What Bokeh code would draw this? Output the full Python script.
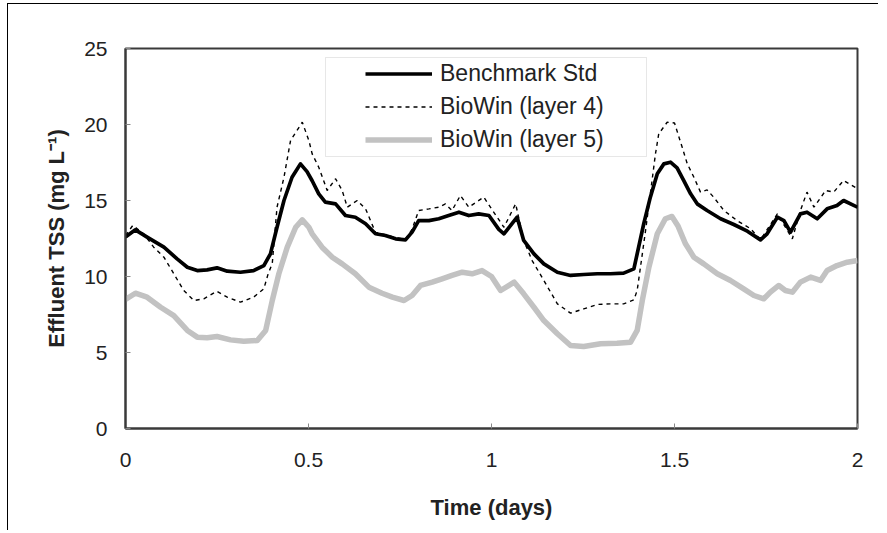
from bokeh.plotting import figure
from bokeh.models import Range1d, FixedTicker, Legend, LegendItem, BoxAnnotation
from bokeh.embed import file_html
from bokeh.resources import INLINE

# ---- data ----
t_bench = [0.0, 0.027, 0.059, 0.105, 0.141, 0.169, 0.196, 0.223, 0.25, 0.278, 0.314, 0.35,
           0.378, 0.396, 0.414, 0.433, 0.455, 0.478, 0.496, 0.51, 0.528, 0.546, 0.574, 0.601,
           0.628, 0.656, 0.683, 0.71, 0.738, 0.765, 0.783, 0.801, 0.829, 0.856, 0.883, 0.911,
           0.938, 0.965, 0.993, 1.02, 1.034, 1.07, 1.088, 1.116, 1.143, 1.18, 1.216, 1.252,
           1.289, 1.325, 1.361, 1.389, 1.402, 1.416, 1.434, 1.453, 1.471, 1.489, 1.507, 1.525,
           1.544, 1.562, 1.589, 1.626, 1.662, 1.699, 1.735, 1.753, 1.781, 1.799, 1.817, 1.844,
           1.862, 1.89, 1.917, 1.944, 1.962, 2.0]
v_bench = [12.6, 13.07, 12.59, 11.93, 11.16, 10.61, 10.39, 10.44, 10.57, 10.35, 10.28, 10.39,
           10.72, 11.49, 13.24, 15.0, 16.53, 17.41, 16.9, 16.3, 15.44, 14.89, 14.78, 14.01,
           13.9, 13.47, 12.81, 12.7, 12.48, 12.41, 12.92, 13.68, 13.68, 13.8, 14.01, 14.23,
           14.01, 14.12, 14.01, 13.1, 12.81, 13.9, 12.37, 11.49, 10.83, 10.28, 10.07, 10.13,
           10.18, 10.18, 10.22, 10.5, 11.93, 13.47, 15.22, 16.76, 17.41, 17.52, 17.15, 16.32,
           15.44, 14.78, 14.34, 13.8, 13.42, 12.98, 12.41, 12.81, 13.9, 13.68, 12.92, 14.12,
           14.23, 13.8, 14.45, 14.67, 15.0, 14.56]

t_layer4 = [0.0, 0.02, 0.05, 0.077, 0.105, 0.132, 0.159, 0.187, 0.214, 0.25, 0.278, 0.314,
            0.35, 0.378, 0.39, 0.401, 0.414, 0.433, 0.451, 0.483, 0.501, 0.51, 0.528, 0.551,
            0.574, 0.592, 0.606, 0.633, 0.656, 0.683, 0.71, 0.738, 0.765, 0.783, 0.801, 0.829,
            0.856, 0.874, 0.892, 0.915, 0.938, 0.979, 1.0, 1.034, 1.066, 1.088, 1.111, 1.143,
            1.18, 1.216, 1.252, 1.289, 1.325, 1.361, 1.389, 1.398, 1.407, 1.421, 1.434, 1.448,
            1.457, 1.48, 1.5, 1.521, 1.535, 1.553, 1.571, 1.589, 1.607, 1.635, 1.671, 1.708,
            1.735, 1.781, 1.822, 1.844, 1.862, 1.881, 1.913, 1.935, 1.962, 2.0]
v_layer4 = [12.7, 13.36, 12.8, 11.93, 11.27, 10.18, 9.08, 8.42, 8.53, 9.03, 8.64, 8.31,
            8.64, 9.19, 10.2, 10.85, 14.56, 16.53, 18.95, 20.15, 18.95, 18.07, 17.19, 15.66,
            16.43, 15.66, 14.56, 15.0, 14.45, 12.9, 12.75, 12.55, 12.45, 13.1, 14.34, 14.45,
            14.56, 14.78, 14.34, 15.33, 14.56, 15.22, 14.45, 13.24, 14.78, 12.37, 11.05, 9.74,
            8.2, 7.59, 7.87, 8.16, 8.2, 8.2, 8.47, 9.08, 10.61, 13.03, 15.44, 18.07,
            19.39, 20.15, 20.1, 18.5, 17.41, 16.53, 15.55, 15.7, 15.22, 14.34, 13.68, 13.14,
            12.41, 14.12, 12.48, 14.34, 15.55, 14.56, 15.66, 15.55, 16.32, 15.77]

t_layer5 = [0.0, 0.027, 0.059, 0.096, 0.132, 0.169, 0.196, 0.223, 0.25, 0.287, 0.323, 0.36,
            0.383, 0.401, 0.419, 0.442, 0.465, 0.483, 0.501, 0.51, 0.537, 0.565, 0.592, 0.628,
            0.665, 0.701, 0.729, 0.761, 0.783, 0.806, 0.838, 0.865, 0.892, 0.92, 0.947, 0.974,
            1.0, 1.025, 1.062, 1.088, 1.116, 1.143, 1.18, 1.216, 1.252, 1.298, 1.343, 1.38,
            1.398, 1.412, 1.43, 1.453, 1.475, 1.493, 1.51, 1.53, 1.553, 1.58, 1.617, 1.653,
            1.689, 1.717, 1.744, 1.762, 1.785, 1.803, 1.822, 1.844, 1.872, 1.899, 1.917, 1.944,
            1.972, 2.0]
v_layer5 = [8.5, 8.9, 8.64, 7.98, 7.43, 6.45, 6.01, 5.97, 6.05, 5.83, 5.74, 5.79,
            6.45, 8.42, 10.18, 11.93, 13.24, 13.73, 13.24, 12.81, 11.93, 11.27, 10.83, 10.18,
            9.3, 8.9, 8.64, 8.42, 8.75, 9.41, 9.63, 9.85, 10.07, 10.28, 10.18, 10.39,
            10.0, 9.08, 9.63, 8.86, 7.98, 7.1, 6.23, 5.46, 5.39, 5.57, 5.61, 5.68,
            6.45, 8.42, 10.61, 12.81, 13.8, 13.95, 13.3, 12.15, 11.27, 10.83, 10.18, 9.74,
            9.19, 8.75, 8.53, 8.97, 9.41, 9.08, 8.97, 9.63, 9.96, 9.74, 10.39, 10.72,
            10.94, 11.05]

x_ticks = [0, 0.5, 1, 1.5, 2]
x_tick_labels = ["0", "0.5", "1", "1.5", "2"]
y_ticks = [0, 5, 10, 15, 20, 25]
series_names = ["Benchmark Std", "BioWin (layer 4)", "BioWin (layer 5)"]

FONT = "Liberation Sans"
FRAME = "#3a3a3a"

p = figure(width=871, height=527, output_backend="svg", toolbar_location=None,
           x_range=Range1d(0, 2), y_range=Range1d(0, 25),
           min_border_left=117, min_border_right=22, min_border_top=44, min_border_bottom=103,
           background_fill_color="white", border_fill_color="white",
           styles={"margin-left": "7px", "margin-top": "3px",
                   "border-left": "1px solid black", "border-top": "1px solid black"})

p.grid.visible = False
p.outline_line_color = FRAME
p.outline_line_width = 2

r5 = p.line(t_layer5, v_layer5, line_color="#c2c2c2", line_width=5.5, line_join="round")
r4 = p.line(t_layer4, v_layer4, line_color="black", line_width=1.4, line_dash="4 4")
rb = p.line(t_bench, v_bench, line_color="black", line_width=3.7, line_join="round")

for ax in (p.xaxis[0], p.yaxis[0]):
    ax.axis_line_color = FRAME
    ax.axis_line_width = 2
    ax.major_tick_in = 5
    ax.major_tick_out = 0
    ax.major_tick_line_color = "#888888"
    ax.minor_tick_line_color = None
    ax.major_label_text_font = FONT
    ax.major_label_text_font_size = "21px"
    ax.major_label_text_color = "#222222"
    ax.axis_label_text_font = FONT
    ax.axis_label_text_font_size = "22px"
    ax.axis_label_text_font_style = "bold"
    ax.axis_label_text_color = "#222222"

p.xaxis.ticker = FixedTicker(ticks=x_ticks)
p.xaxis.major_label_overrides = {tk: lb for tk, lb in zip(x_ticks, x_tick_labels)}
p.xaxis.major_label_standoff = 24
p.xaxis.axis_label = "Time (days)"
p.xaxis.axis_label_standoff = 25

p.yaxis.ticker = FixedTicker(ticks=y_ticks)
p.yaxis.major_label_standoff = 18
p.yaxis.axis_label = "Effluent TSS (mg L\u207b\u00b9)"
p.yaxis.axis_label_standoff = 12

# legend frame
p.add_layout(BoxAnnotation(left=316, right=637, top=52, bottom=151,
                           left_units="canvas", right_units="canvas",
                           top_units="canvas", bottom_units="canvas",
                           fill_color="white", fill_alpha=1.0,
                           line_color="#b0b0b0", line_width=1, level="overlay"))

legend = Legend(items=[LegendItem(label=series_names[0], renderers=[rb]),
                       LegendItem(label=series_names[1], renderers=[r4]),
                       LegendItem(label=series_names[2], renderers=[r5])],
                location=(240, 275), padding=0, margin=0, spacing=6,
                glyph_width=67, glyph_height=23, label_height=23, label_standoff=8,
                border_line_color=None, background_fill_alpha=0,
                label_text_font=FONT, label_text_font_size="23px",
                label_text_color="#222222")
p.add_layout(legend)

open("out.html", "w").write(file_html(p, INLINE))
